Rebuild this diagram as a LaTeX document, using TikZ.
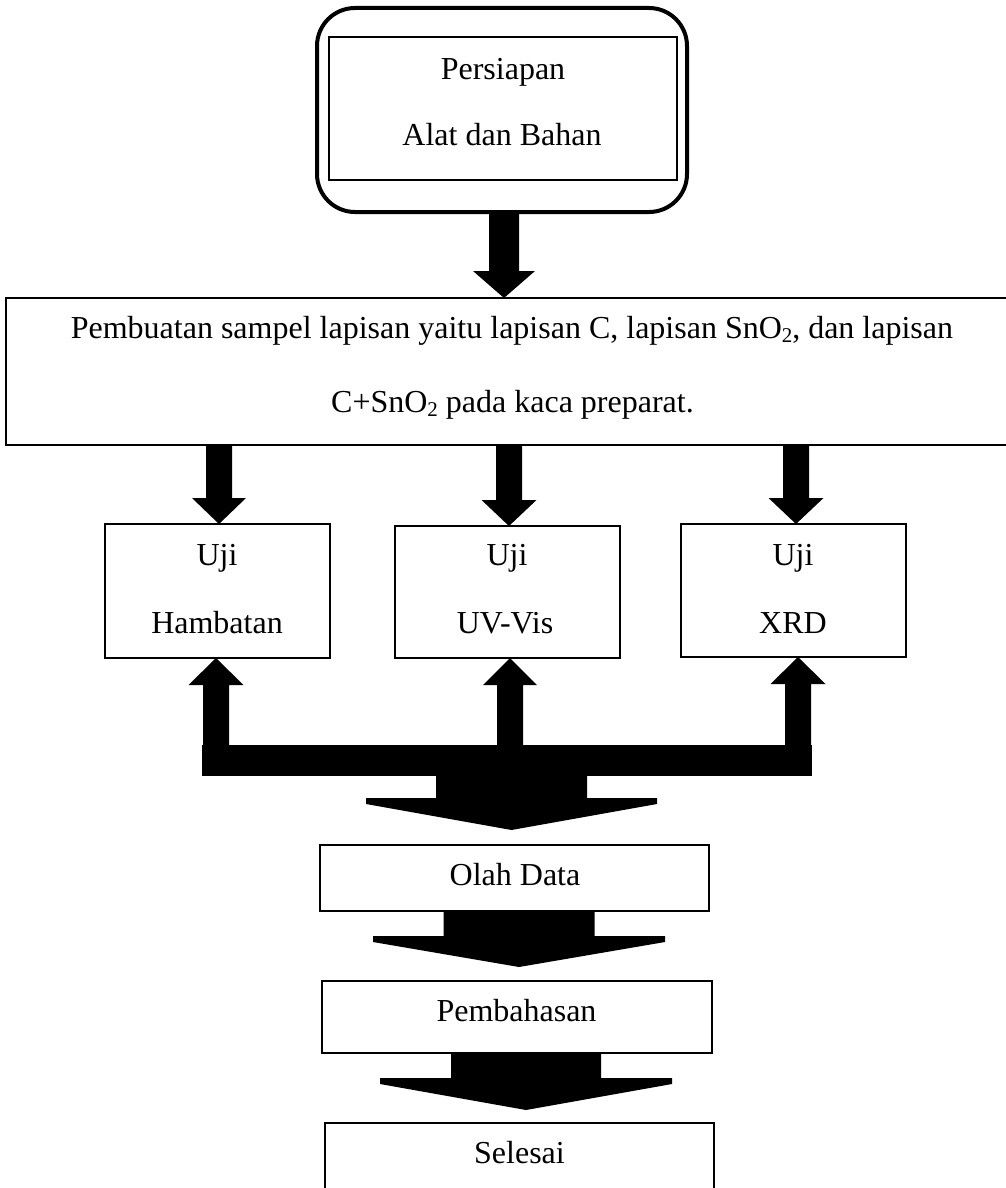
\documentclass[tikz,border=0pt]{standalone}
\usepackage{fontspec}
\setmainfont{Liberation Serif}
\usetikzlibrary{calc}
\newcommand\subtwo{\raisebox{-4pt}{\fontsize{21}{21}\selectfont 2}}
% #1 from, #2 tip, #3 shaft half width, #4 head half width, #5 head length, #6 head side
\newcommand\blockarrow[6]{%
  \fill let \p1=(#1), \p2=(#2), \n1={sign(\y2-\y1)} in
    ({\x2-#3pt},{\y1}) -- ({\x2-#3pt},{\y2-(\n1)*#5pt}) -- ({\x2-#4pt},{\y2-(\n1)*#5pt})
    -- ({\x2-#4pt},{\y2-(\n1)*(#5pt-#6pt)}) -- ({\x2},{\y2})
    -- ({\x2+#4pt},{\y2-(\n1)*(#5pt-#6pt)}) -- ({\x2+#4pt},{\y2-(\n1)*#5pt})
    -- ({\x2+#3pt},{\y2-(\n1)*#5pt}) -- ({\x2+#3pt},{\y1}) -- cycle;}
\begin{document}
\begin{tikzpicture}[x=1pt,y=-1pt,
  box/.style={draw,line width=1.5pt,rectangle,inner sep=0pt,outer sep=0pt},
  lbl/.style={inner sep=0pt,outer sep=0pt,anchor=base,font=\fontsize{32}{38}\selectfont}]
\useasboundingbox[fill=white] (0,0) rectangle (1005,1188);
% boxes
\node[box,line width=4pt,rounded corners=38pt,minimum width=370pt,minimum height=204pt] (prepOuter) at (502,110) {};
\node[box,minimum width=348pt,minimum height=143pt] (prepInner) at (503,108.5) {};
\node[box,minimum width=1012pt,minimum height=147pt] (big) at (512,371.5) {};
\node[box,minimum width=225pt,minimum height=134pt] (hamb) at (217.5,591) {};
\node[box,minimum width=225pt,minimum height=132pt] (uv) at (507.5,592) {};
\node[box,minimum width=225pt,minimum height=133pt] (xrd) at (793.5,590.5) {};
\node[box,minimum width=389pt,minimum height=66pt] (olah) at (514.5,878) {};
\node[box,minimum width=390pt,minimum height=72pt] (pemb) at (517,1017) {};
\node[box,minimum width=389pt,minimum height=77pt] (sel) at (519.5,1161.5) {};
\node[fill,inner sep=0pt,outer sep=0pt,minimum width=610pt,minimum height=31pt] (bar) at (507,760.5) {};
% block arrows
\blockarrow{prepOuter.south}{[xshift=-8pt]big.north}{15}{31}{27}{0}
\blockarrow{big.south}{[xshift=1.5pt]hamb.north}{13}{27}{26}{0}
\blockarrow{big.south}{[xshift=1.5pt]uv.north}{13}{27.5}{26}{0}
\blockarrow{big.south}{[xshift=2.5pt]xrd.north}{13}{27.5}{26}{0}
\blockarrow{bar.north}{[xshift=-1.5pt]hamb.south}{13}{27.5}{27}{0}
\blockarrow{bar.north}{[xshift=2.5pt]uv.south}{13}{27}{27}{0}
\blockarrow{bar.north}{[xshift=4.5pt]xrd.south}{13}{27.5}{27}{0}
\blockarrow{bar.south}{[xshift=-3pt,yshift=15pt]olah.north}{75.5}{145.5}{32}{6}
\blockarrow{olah.south}{[xshift=2pt,yshift=14pt]pemb.north}{75.5}{146}{31}{6}
\blockarrow{pemb.south}{[xshift=6.5pt,yshift=13pt]sel.north}{75}{146}{32}{6}
% texts
\node[lbl] (t1) at (503,80) {Persiapan};
\node[lbl] (t2) at (502,146) {Alat dan Bahan};
\node[lbl] (t3) at (512,338) {Pembuatan sampel lapisan yaitu lapisan C, lapisan SnO\subtwo, dan lapisan};
\node[lbl] (t4) at (512.5,412) {C+SnO\subtwo{} pada kaca preparat.};
\node[lbl] (t5) at (217,565) {Uji};
\node[lbl] (t6) at (217,633) {Hambatan};
\node[lbl] (t7) at (507,565) {Uji};
\node[lbl] (t8) at (505,633) {UV-Vis};
\node[lbl] (t9) at (793,565) {Uji};
\node[lbl] (t10) at (793,633) {XRD};
\node[lbl] (t11) at (515,885) {Olah Data};
\node[lbl] (t12) at (516.5,1021) {Pembahasan};
\node[lbl] (t13) at (519.5,1163) {Selesai};
\end{tikzpicture}
\end{document}
